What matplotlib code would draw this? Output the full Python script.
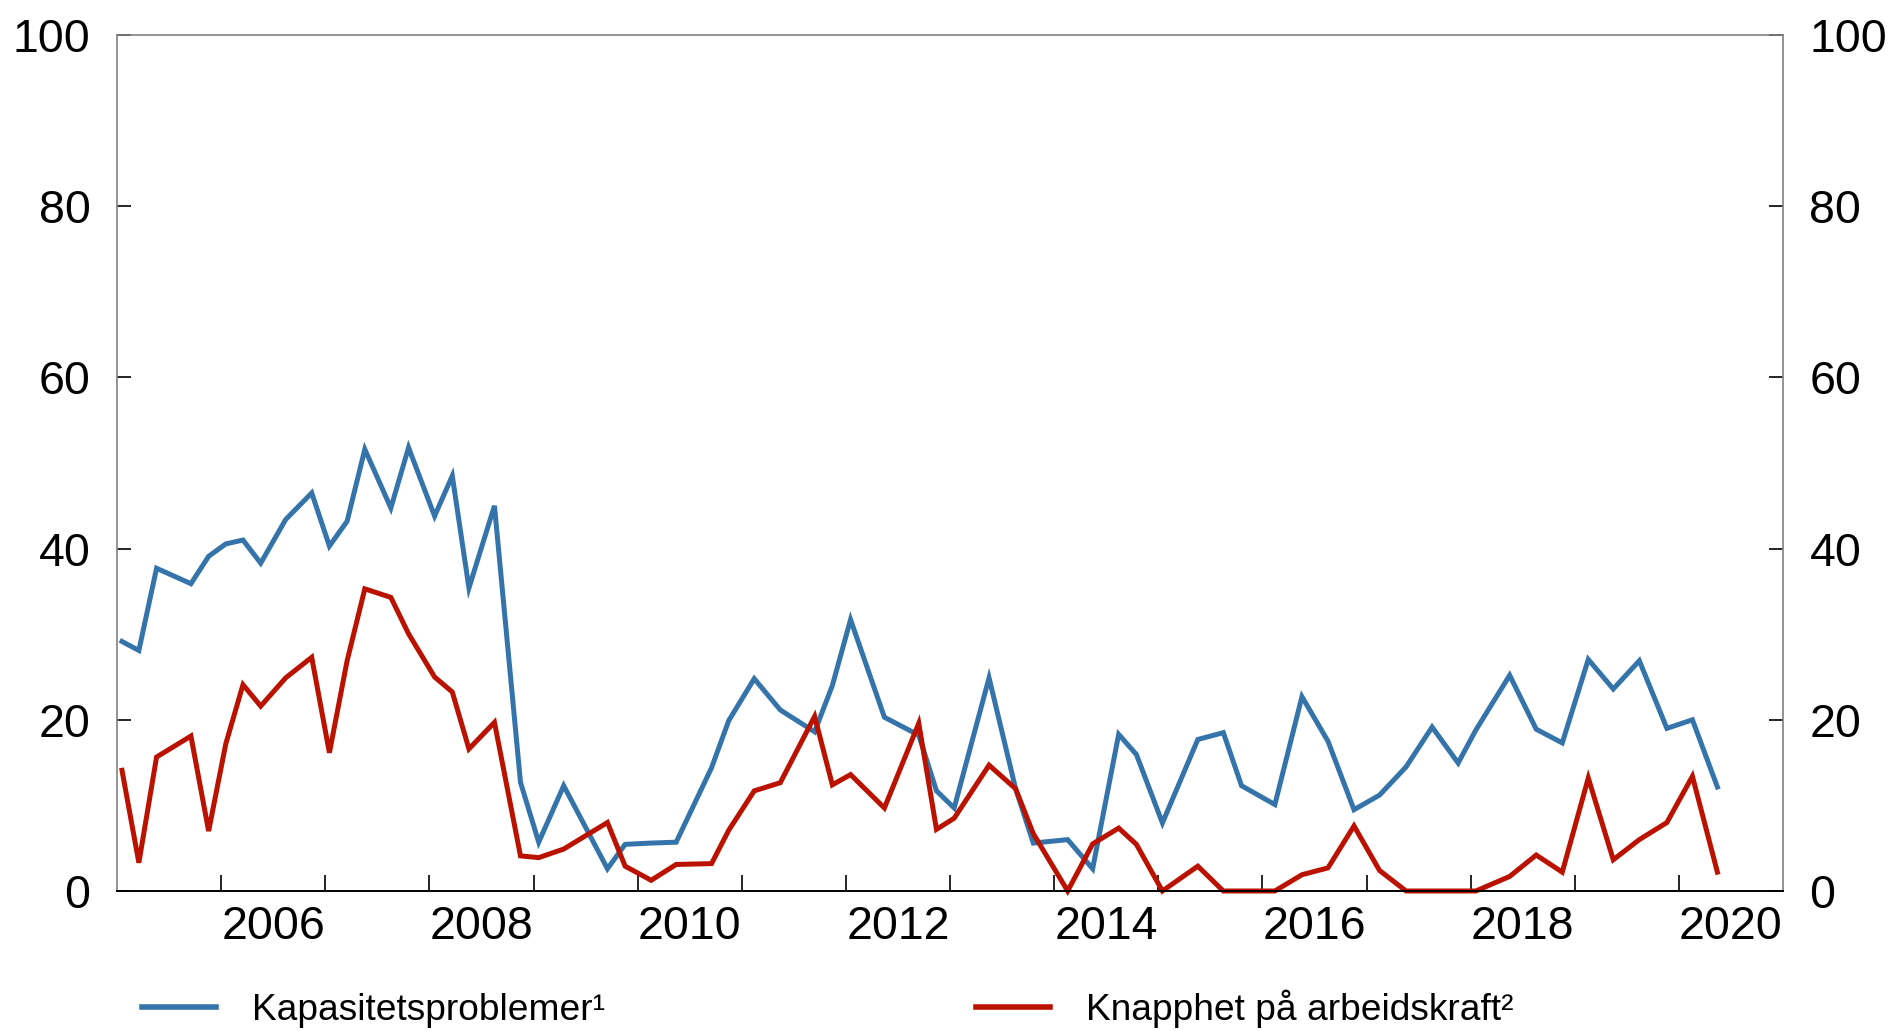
import numpy as np
import matplotlib
matplotlib.use('Agg')
import matplotlib.pyplot as plt
from matplotlib.lines import Line2D

plt.rcParams['font.family'] = ['Liberation Sans', 'DejaVu Sans']

# survey rounds as decimal years
dates = [
    2005.048, 2005.21, 2005.38, 2005.71, 2005.88,
    2006.045, 2006.21, 2006.38, 2006.62, 2006.87,
    2007.04, 2007.21, 2007.38, 2007.63, 2007.80,
    2008.05, 2008.22, 2008.38, 2008.625, 2008.875,
    2009.05, 2009.29, 2009.71, 2009.88,
    2010.13, 2010.37, 2010.71, 2010.875,
    2011.12, 2011.37, 2011.70, 2011.87,
    2012.045, 2012.37, 2012.70, 2012.87,
    2013.04, 2013.375, 2013.63, 2013.80,
    2014.13, 2014.37, 2014.62, 2014.79,
    2015.04, 2015.38, 2015.625, 2015.80,
    2016.12, 2016.38, 2016.63, 2016.88,
    2017.125, 2017.38, 2017.63, 2017.88,
    2018.05, 2018.375, 2018.63, 2018.88,
    2019.13, 2019.37, 2019.62, 2019.885,
    2020.13, 2020.37,
]

# Kapasitetsproblemer (prosent)
kapasitet = [
    29.15, 28.1, 37.7, 35.9, 39.1,
    40.55, 41.0, 38.3, 43.4, 46.5,
    40.3, 43.2, 51.6, 44.75, 51.8,
    43.8, 48.5, 35.4, 45.0, 12.7,
    5.7, 12.3, 2.6, 5.45,
    5.6, 5.7, 14.4, 19.9,
    24.8, 21.15, 18.6, 24.0,
    31.7, 20.3, 18.2, 11.7,
    9.7, 24.9, 11.95, 5.6,
    6.0, 2.6, 18.3, 15.95,
    7.95, 17.7, 18.5, 12.3,
    10.1, 22.7, 17.5, 9.5,
    11.2, 14.5, 19.15, 14.95,
    18.8, 25.2, 18.9, 17.3,
    27.05, 23.6, 26.9, 19.0,
    20.0, 12.15,
]

# Knapphet paa arbeidskraft (prosent)
knapphet = [
    14.1, 3.3, 15.65, 18.1, 7.0,
    17.2, 24.1, 21.6, 24.9, 27.3,
    16.15, 26.9, 35.3, 34.3, 30.05,
    25.0, 23.25, 16.6, 19.7, 4.1,
    3.9, 4.9, 8.0, 2.9,
    1.25, 3.1, 3.2, 7.1,
    11.7, 12.65, 20.4, 12.4,
    13.6, 9.7, 19.6, 7.2,
    8.5, 14.7, 11.95, 6.7,
    0.0, 5.5, 7.35, 5.45,
    0.0, 2.9, 0.0, 0.0,
    0.0, 1.9, 2.7, 7.6,
    2.4, 0.0, 0.0, 0.0,
    0.0, 1.7, 4.2, 2.2,
    13.2, 3.65, 6.0, 8.0,
    13.4, 2.2,
]

labels = ['Kapasitetsproblemer¹', 'Knapphet på arbeidskraft²']
year_labels = list(range(2006, 2021, 2))

BLUE = '#3574aa'
RED = '#bb1200'
GRAY = '#808080'

fig = plt.figure(figsize=(18.9, 10.31), dpi=100, facecolor='white')
ax = fig.add_axes([117 / 1890, 140 / 1031, 1666 / 1890, 856 / 1031])

ax.plot(dates, kapasitet, color=BLUE, lw=3.6, clip_on=False, solid_joinstyle='miter')
ax.plot(dates, knapphet, color=RED, lw=3.6, clip_on=False, solid_joinstyle='miter')

ax.set_xlim(2005, 2021)
ax.set_ylim(0, 100)

# y axis on both sides
ax.set_yticks(np.arange(0, 101, 20))
ax.tick_params(axis='y', which='both', direction='in', length=10, width=1.2,
               labelsize=33.5, pad=19, left=True, right=True,
               labelleft=True, labelright=True, colors='black')

# year ticks, labels centred mid-year
ax.set_xticks(np.arange(2006, 2021))
ax.set_xticklabels([])
ax.set_xticks([y + 0.5 for y in year_labels], minor=True)
ax.set_xticklabels([str(y) for y in year_labels], minor=True)
ax.tick_params(axis='x', which='major', direction='in', length=11.5, width=1.2)
ax.tick_params(axis='x', which='minor', length=0, labelsize=33.5, pad=10)

for side in ['left', 'right', 'top']:
    ax.spines[side].set_color(GRAY)
    ax.spines[side].set_linewidth(1.2)
ax.spines['bottom'].set_color('black')
ax.spines['bottom'].set_linewidth(1.4)

handles = [Line2D([], [], color=BLUE, lw=4), Line2D([], [], color=RED, lw=4)]
fig.legend(handles, labels, loc='center left', bbox_to_anchor=(142 / 1890, 22 / 1031),
           ncol=2, frameon=False, fontsize=26.7, handlelength=2.0, handletextpad=0.97,
           columnspacing=10.0, borderaxespad=0, borderpad=0)

fig.savefig('out.png', dpi=100, facecolor='white')
